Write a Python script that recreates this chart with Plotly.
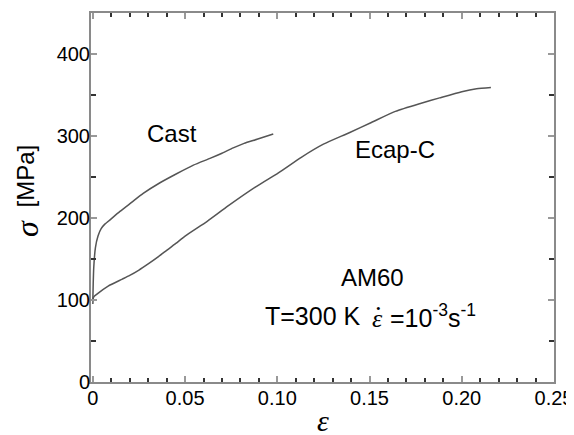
import plotly.graph_objects as go

# Cast curve (strain, stress MPa)
cast_strain = [0.0, 0.0002, 0.0005, 0.0014, 0.0028, 0.0045, 0.0065, 0.0084, 0.0147, 0.021, 0.0273, 0.0364, 0.0454, 0.0545, 0.0635, 0.070, 0.0761, 0.082, 0.089, 0.0978]
cast_stress = [100, 120, 140, 164, 178, 187, 192.5, 196, 208, 219, 230, 243, 254, 264.5, 272.7, 279, 285.5, 291, 296, 302.5]

# Ecap-C curve
ecap_strain = [0.0, 0.0004, 0.0024, 0.0083, 0.016, 0.020, 0.025, 0.030, 0.035, 0.040, 0.045, 0.050, 0.062, 0.0735, 0.089, 0.1006, 0.113, 0.125, 0.139, 0.151, 0.164, 0.178, 0.188, 0.200, 0.208, 0.2158]
ecap_stress = [95, 103.5, 107.5, 117, 125.5, 130, 136.5, 144, 152, 160.5, 169, 178, 196, 215, 239, 255, 274, 290, 304, 316.5, 330, 340, 346.5, 354, 357.5, 359]

x_ticks = [0, 0.05, 0.10, 0.15, 0.20, 0.25]
x_ticklabels = ["0", "0.05", "0.10", "0.15", "0.20", "0.25"]
y_ticks = [0, 100, 200, 300, 400]

line_color = "#555555"
fig = go.Figure()
fig.add_trace(go.Scatter(x=cast_strain, y=cast_stress, mode="lines", line_shape="spline",
                         line=dict(color=line_color, width=1.5, smoothing=0.6), showlegend=False))
fig.add_trace(go.Scatter(x=ecap_strain, y=ecap_stress, mode="lines", line_shape="spline",
                         line=dict(color=line_color, width=1.5, smoothing=0.6), showlegend=False))

font_main = "Liberation Sans, Arial, sans-serif"
serif = "Liberation Serif, Times New Roman, serif"
axis_common = dict(showline=True, linecolor="#8a8a8a", linewidth=2, mirror="ticks",
                   ticks="inside", ticklen=6, tickwidth=1.5, tickcolor="#999999",
                   showgrid=False, zeroline=False,
                   tickfont=dict(family=font_main, size=20, color="black"))

fig.update_xaxes(range=[-0.001, 0.25], tickvals=x_ticks, ticktext=x_ticklabels,
                 ticklabelstandoff=-3,
                 minor=dict(dtick=0.01, tick0=0, ticks="inside", ticklen=4, tickwidth=2, tickcolor="#333333"),
                 **axis_common)
fig.update_yaxes(range=[0, 450], tickvals=y_ticks, ticklabelstandoff=-5,
                 minor=dict(dtick=50, tick0=0, ticks="inside", ticklen=5, tickwidth=1.5, tickcolor="#333333"),
                 **axis_common)

ann_font = dict(family=font_main, size=24, color="black")
t_font = dict(family=font_main, size=25, color="black")
fig.add_annotation(x=0.043, y=303, text="Cast", xanchor="center", showarrow=False, font=ann_font)
fig.add_annotation(x=0.1638, y=283, text="Ecap-C", xanchor="center", showarrow=False, font=ann_font)
fig.add_annotation(x=0.1516, y=127, text="AM60", xanchor="center", showarrow=False, font=ann_font)
fig.add_annotation(x=0.1465, y=80, text="T=300 K", xanchor="right", showarrow=False, font=t_font)
fig.add_annotation(x=0.1545, y=78, text="<i>ε</i>", xanchor="center", showarrow=False,
                   font=dict(family=serif, size=26, color="black"))
fig.add_annotation(x=0.1550, y=90, text="·", xanchor="center", showarrow=False,
                   font=dict(family=serif, size=26, color="black"))
fig.add_annotation(x=0.1598, y=80, text="=10<sup>-3</sup>s<sup>-1</sup>", xanchor="left",
                   showarrow=False, font=t_font)

# y-axis title pieces
fig.add_annotation(xref="paper", yref="paper", x=-0.1425, y=0.557, textangle=-90,
                   xanchor="center", yanchor="middle",
                   showarrow=False, font=dict(family=font_main, size=24, color="black"),
                   text="[MPa]")
fig.add_annotation(xref="paper", yref="paper", x=-0.138, y=0.415, textangle=-90,
                   xanchor="center", yanchor="middle",
                   showarrow=False, font=dict(family=serif, size=32, color="black"),
                   text="<i>σ</i>")
# x-axis title
fig.add_annotation(xref="paper", yref="paper", x=0.5, y=-0.104, xanchor="center", yanchor="middle",
                   showarrow=False, font=dict(family=serif, size=30, color="black"),
                   text="<i>ε</i>")

# page body has an 8px margin: shrink the figure so the plot lands where the reference has it
fig.update_layout(width=566, height=427, margin=dict(l=83, r=20, t=4.5, b=52.5, autoexpand=False),
                  plot_bgcolor="white", paper_bgcolor="white")
fig.write_html("out.html")
